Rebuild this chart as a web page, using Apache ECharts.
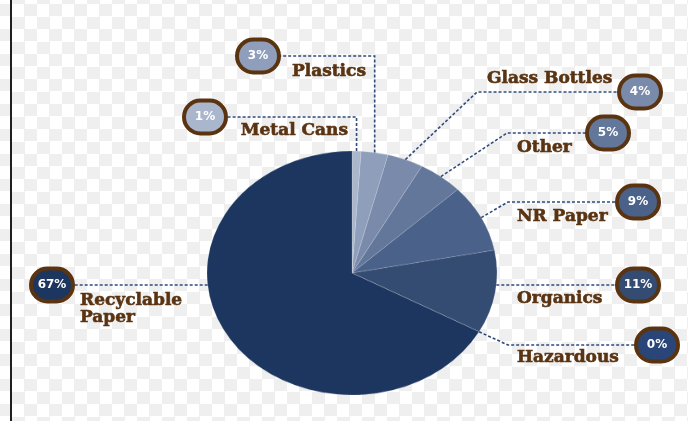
<!DOCTYPE html>
<html>
<head>
<meta charset="utf-8">
<style>
html, body { margin: 0; padding: 0; }
body {
    width: 688px; height: 421px; overflow: hidden; position: relative;
    background: repeating-conic-gradient(#efefef 0 25%, #ffffff 0 50%) 12px 4px / 25px 25px;
}
#edge { position: absolute; left: 10px; top: 0; width: 2px; height: 421px; background: #1f1f1f; }
#pie, #labels { position: absolute; left: 0; top: 0; width: 688px; height: 421px; }
/* 饼图压扁成椭圆 */
#pie { transform: scaleY(0.8414); transform-origin: 352px 273px; }
</style>
<script src="https://cdn.jsdelivr.net/npm/echarts@6/dist/echarts.min.js"></script>
</head>
<body>
<div id="edge"></div>
<div id="pie"></div>
<div id="labels"></div>
<script>
// 数据
const names = ['Metal Cans', 'Plastics', 'Glass Bottles', 'Other', 'NR Paper', 'Organics', 'Hazardous', 'Recyclable\nPaper'];
const values = [1, 3, 4, 5, 9, 11, 0, 67];
const sliceColors = ['#a9b6cb', '#8f9fbb', '#7a8aaa', '#62779a', '#4a6189', '#344b72', '#2a4678', '#1c365f'];

// 布局
const CX = 352, CY = 273, R = 145, SQUASH = 0.8414;
const badgePos = [[205, 117], [258, 56], [640, 92], [608, 133], [638, 202], [638, 285], [657, 345], [52, 285]];
// 'v' 先竖直再水平, 'h' 水平直线, 数字为折点x
const bendX = ['v', 'v', 477, 507, 508, 'h', 508, 'h'];
const namePos = [[348, 131, 'right'], [366, 72, 'right'], [487, 79, 'left'], [517, 148, 'left'],
                 [517, 217, 'left'], [517, 299, 'left'], [517, 358, 'left'], [80, 309, 'left']];

function makeData(transparent, withBadge){
    let arr = [];
    for(let i = 0; i < values.length; i++){
        let item = { name: names[i], value: values[i], itemStyle: { color: transparent ? 'rgba(0,0,0,0)' : sliceColors[i] } };
        if(withBadge){
            item.label = { backgroundColor: sliceColors[i] };
        }
        arr.push(item);
    }
    return arr;
}

function badgeLayout(params){
    let i = params.dataIndex;
    let bx = badgePos[i][0], by = badgePos[i][1];
    let p0 = params.labelLinePoints ? params.labelLinePoints[0] : [CX, CY - R];
    let sx = p0[0];
    let sy = CY + (p0[1] - CY) * SQUASH;
    let pts;
    if(bendX[i] === 'h'){
        let dy = (by - CY) / (R * SQUASH);
        let dx = R * Math.sqrt(Math.max(0, 1 - dy * dy));
        sx = bx > CX ? CX + dx : CX - dx;
        let ex = bx > CX ? bx - 22 : bx + 22;
        pts = [[sx, by], [sx, by], [ex, by]];
    } else {
        let cornerX = bendX[i] === 'v' ? sx : bendX[i];
        let ex = bx < cornerX ? bx + 22 : bx - 22;
        pts = [[sx, sy], [cornerX, by], [ex, by]];
    }
    return { x: bx, y: by, align: 'center', verticalAlign: 'middle', labelLinePoints: pts, hideOverlap: false };
}

function nameLayout(params){
    let p = namePos[params.dataIndex];
    return { x: p[0], y: p[1], align: p[2], verticalAlign: 'middle', hideOverlap: false };
}

let pieChart = echarts.init(document.getElementById('pie'));
pieChart.setOption({
    animation: false,
    series: [{
        type: 'pie',
        center: [CX, CY],
        radius: R,
        startAngle: 90,
        clockwise: true,
        label: { show: false },
        labelLine: { show: false },
        emphasis: { disabled: true },
        itemStyle: { borderColor: 'rgba(255,255,255,0.25)', borderWidth: 0.6 },
        data: makeData(false, false)
    }]
});

let labelChart = echarts.init(document.getElementById('labels'));
labelChart.setOption({
    animation: false,
    series: [
        {
            type: 'pie',
            center: [CX, CY],
            radius: R,
            silent: true,
            avoidLabelOverlap: false,
            emphasis: { disabled: true },
            label: {
                show: true,
                position: 'outside',
                formatter: (p) => p.value + '%',
                color: '#ffffff',
                fontFamily: 'DejaVu Sans',
                fontWeight: 'bold',
                fontSize: 12,
                width: 38,
                height: 29,
                lineHeight: 29,
                align: 'center',
                borderColor: '#5a3410',
                borderWidth: 4,
                borderRadius: 18
            },
            labelLine: {
                show: true,
                lineStyle: { color: '#2f4b7b', width: 1.6, type: [3, 2] }
            },
            labelLayout: badgeLayout,
            data: makeData(true, true)
        },
        {
            type: 'pie',
            center: [CX, CY],
            radius: R,
            silent: true,
            avoidLabelOverlap: false,
            emphasis: { disabled: true },
            label: {
                show: true,
                position: 'outside',
                formatter: '{b}',
                color: '#5a3412',
                fontFamily: 'DejaVu Serif',
                fontWeight: 'bold',
                fontSize: 17,
                lineHeight: 17,
                textBorderColor: '#5a3412',
                textBorderWidth: 0.6
            },
            labelLine: { show: false },
            labelLayout: nameLayout,
            data: makeData(true, false)
        }
    ]
});
</script>
</body>
</html>
